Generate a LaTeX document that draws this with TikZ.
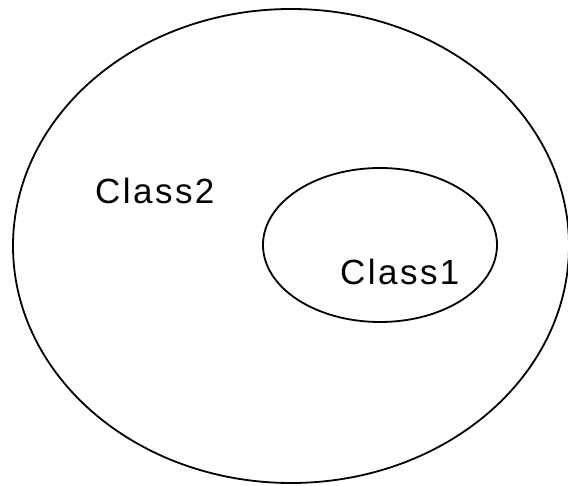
\documentclass[tikz,border=0pt]{standalone}
\usepackage{fontspec}
\setmainfont{Liberation Sans}
\usetikzlibrary{shapes.geometric}
\begin{document}
\begin{tikzpicture}[x=1pt,y=1pt,
  setbox/.style={ellipse, draw=black, line width=1.8pt, inner sep=0pt},
  lbl/.style={inner sep=0pt, anchor=base west, font=\fontsize{35}{40}\selectfont\addfontfeature{LetterSpace=7}}]
\useasboundingbox (0,0) rectangle (568,-486);
\node[setbox, minimum width=556pt, minimum height=474pt] (outer) at (291,-246) {};
\node[setbox, minimum width=234pt, minimum height=154pt] (inner) at (380,-245) {};
\node[lbl] (c2) at (95,-204) {Class2};
\node[lbl] (c1) at (340,-285) {Class1};
\end{tikzpicture}
\end{document}
